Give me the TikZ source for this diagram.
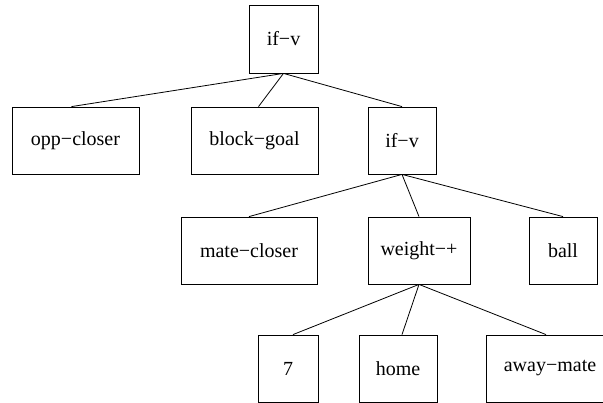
\documentclass[tikz,border=0pt]{standalone}
\usepackage{fontspec}
\setmainfont{Liberation Serif}
\begin{document}
\begin{tikzpicture}[x=1pt,y=-1pt,
  box/.style={draw, line width=0.8pt, minimum height=67pt, inner sep=0pt,
              font=\fontsize{20}{24}\selectfont, anchor=center},
  edge/.style={line width=0.8pt}]
\useasboundingbox (0,0) rectangle (603,403);
% root
\node[box, minimum width=69pt, minimum height=68pt] (root) at (283.5,39) {if−v};
% first level
\node[box, minimum width=127pt] (opp)   at (75.5,140.5)  {opp−closer};
\node[box, minimum width=127pt] (block) at (254.5,140.5) {block−goal};
\node[box, minimum width=68pt]  (ifv)   at (402,140.5)   {if−v};
% second level
\node[box, minimum width=136pt] (mate)   at (249,250.5) {mate−closer};
\node[box, minimum width=102pt] (weight) at (419,250.5) {weight−+};
\node[box, minimum width=68pt]  (ball)   at (563,250.5) {ball};
% third level
\node[box, minimum width=60pt]  (seven) at (288,368.5) {7};
\node[box, minimum width=78pt]  (home)  at (398,368.5) {home};
\node[box, minimum width=128pt] (away)  at (550,368.5) {away−mate};
% connectors
\draw[edge] (root.south) -- ([xshift=-4pt]opp.north);
\draw[edge] (root.south) -- ([xshift=4pt]block.north);
\draw[edge] (root.south) -- (ifv.north);
\draw[edge] (ifv.south) -- (mate.north);
\draw[edge] (ifv.south) -- (weight.north);
\draw[edge] (ifv.south) -- (ball.north);
\draw[edge] (weight.south) -- ([xshift=5pt]seven.north);
\draw[edge] (weight.south) -- ([xshift=4pt]home.north);
\draw[edge] (weight.south) -- ([xshift=-4pt]away.north);
\end{tikzpicture}
\end{document}
